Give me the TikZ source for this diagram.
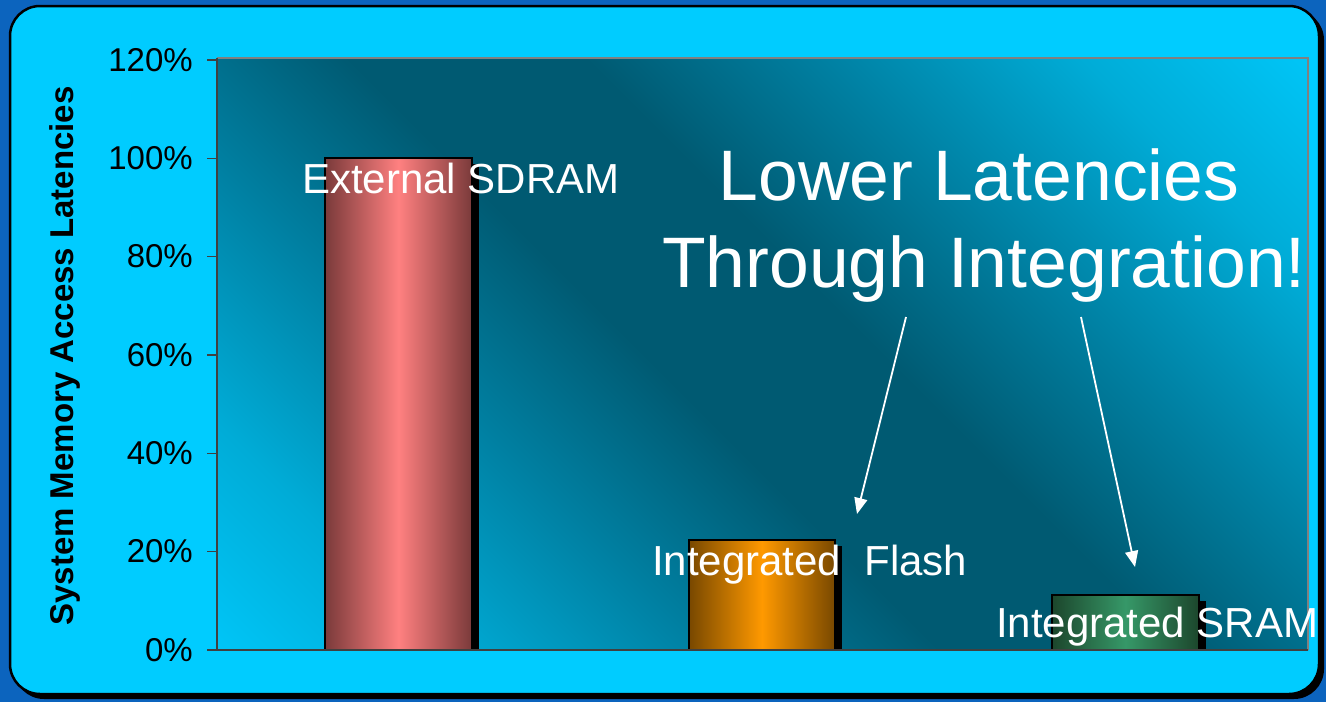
\documentclass[tikz,border=0pt]{standalone}
\usepackage{fontspec}
\setmainfont{Liberation Sans}
\usetikzlibrary{arrows.meta}
\definecolor{outerblue}{RGB}{12,100,190}
\definecolor{panel}{RGB}{0,204,255}
\definecolor{plotlight}{RGB}{0,204,255}
\definecolor{plotlm}{RGB}{0,172,215}
\definecolor{plotmid}{RGB}{0,128,162}
\definecolor{plotdark}{RGB}{0,90,114}
\definecolor{sdramlight}{RGB}{255,128,128}
\definecolor{sdramdark}{RGB}{122,58,58}
\definecolor{flashlight}{RGB}{255,153,0}
\definecolor{flashdark}{RGB}{120,72,0}
\definecolor{sramlight}{RGB}{54,152,104}
\definecolor{sramdark}{RGB}{28,70,44}
\pgfdeclareverticalshading{plotshade}{100bp}{color(0bp)=(plotlight); color(12bp)=(plotlight); color(24bp)=(plotlm); color(35bp)=(plotmid); color(45bp)=(plotdark); color(55bp)=(plotdark); color(65bp)=(plotmid); color(76bp)=(plotlm); color(88bp)=(plotlight); color(100bp)=(plotlight)}
\tikzset{
  barshadow/.style={fill=black},
  barbox/.style={draw=black, line width=1.6pt},
  ticklabel/.style={anchor=base east, text=black, font=\fontsize{33}{38}\selectfont, inner sep=0pt},
  barlabel/.style={anchor=base west, text=white, font=\fontsize{42}{50}\selectfont, inner sep=0pt},
  bigtitle/.style={anchor=base, text=white, font=\fontsize{71.5}{84}\selectfont, inner sep=0pt},
  pointer/.style={white, line width=1.8pt, -{Triangle[length=16pt,width=13pt]}},
}
\begin{document}
\begin{tikzpicture}[x=1pt,y=1pt]
\fill[outerblue] (0,0) rectangle (1326,-702);
\useasboundingbox (0,0) rectangle (1326,-702);
% panel with shadow
\fill[black, rounded corners=30pt] (14,-10) rectangle (1324,-699);
\draw[black, line width=2.5pt, fill=panel, rounded corners=30pt] (10,-6) rectangle (1319,-694);
% plot area
\shade[shading=plotshade, shading angle=-45] (217,-58) rectangle (1308,-650);
\draw[gray, line width=2pt] (217,-58) -- (1308,-58) -- (1308,-650);
% bars
\fill[barshadow] (331,-164) rectangle (479,-650);
\shade[left color=sdramdark, right color=sdramdark, middle color=sdramlight] (325,-158) rectangle (472,-650);
\draw[barbox] (325,-158) rectangle (472,-650);
\fill[barshadow] (695,-546) rectangle (842,-650);
\shade[left color=flashdark, right color=flashdark, middle color=flashlight] (689,-540) rectangle (835,-650);
\draw[barbox] (689,-540) rectangle (835,-650);
\fill[barshadow] (1058,-601) rectangle (1206,-650);
\shade[left color=sramdark, right color=sramdark, middle color=sramlight] (1052,-595) rectangle (1199,-650);
\draw[barbox] (1052,-595) rectangle (1199,-650);
% axes
\draw[black!75, line width=1.6pt] (217,-58) -- (217,-650) -- (1308,-650);
\foreach \yy in {650,551.67,453.33,355,256.67,158.33,60} \draw[black!75, line width=1.6pt] (207,-\yy) -- (217,-\yy);
% tick labels
\node[ticklabel] (t0) at (193,-661) {0\%};
\node[ticklabel] (t20) at (193,-562.7) {20\%};
\node[ticklabel] (t40) at (193,-464.3) {40\%};
\node[ticklabel] (t60) at (193,-366) {60\%};
\node[ticklabel] (t80) at (193,-267.7) {80\%};
\node[ticklabel] (t100) at (193,-169.3) {100\%};
\node[ticklabel] (t120) at (193,-71) {120\%};
% axis title
\node[rotate=90, text=black, font=\fontsize{33}{38}\selectfont\bfseries, inner sep=0pt] (ytitle) at (65,-356) {System Memory Access Latencies};
% bar labels
\node[barlabel] (lsdram) at (302,-193) {External SDRAM};
\node[barlabel] (lflash) at (652,-575) {Integrated\ \ Flash};
\node[barlabel] (lsram) at (996,-637) {Integrated SRAM};
% title
\node[bigtitle] (title1) at (979,-200) {Lower Latencies};
\node[bigtitle] (title2) at (984,-287) {Through Integration!};
% arrows
\coordinate (a1s) at (906,-317);
\coordinate (a1e) at (857,-514);
\coordinate (a2s) at (1081,-317);
\coordinate (a2e) at (1135,-567);
\draw[pointer] (a1s) -- (a1e);
\draw[pointer] (a2s) -- (a2e);
\end{tikzpicture}
\end{document}
